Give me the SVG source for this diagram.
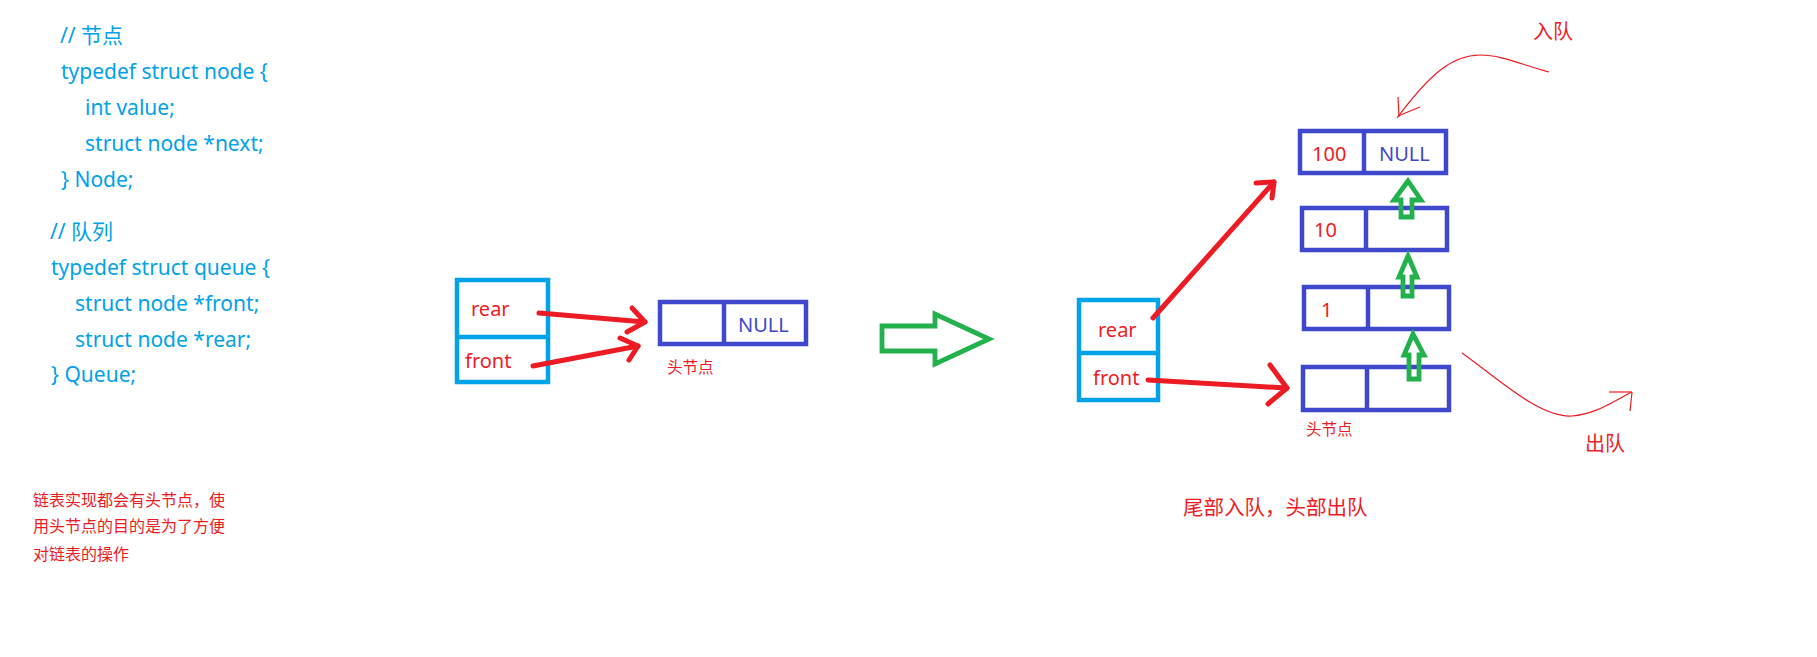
<svg xmlns="http://www.w3.org/2000/svg" width="1817" height="657" viewBox="0 0 1817 657">
<style>
.code{font-family:"Noto Sans","Noto Sans CJK SC",sans-serif;font-size:21px;fill:#00A2E8}
.lbl{font-family:"Noto Sans","Noto Sans CJK SC",sans-serif;font-size:20px;fill:#ED1C24}
.nul{font-family:"Noto Sans","Noto Sans CJK SC",sans-serif;font-size:20px;fill:#3F48CC}
.cn{font-family:"Noto Sans CJK SC",sans-serif;fill:#ED1C24}
.qbox{fill:none;stroke:#00A2E8;stroke-width:4.5}
.nbox{fill:none;stroke:#3F48CC;stroke-width:4.5}
.red{fill:none;stroke:#ED1C24;stroke-width:5;stroke-linecap:round;stroke-linejoin:round}
.thin{fill:none;stroke:#ED1C24;stroke-width:1.2}
.grn{fill:none;stroke:#22B14C;stroke-width:4.8;stroke-linejoin:miter}
</style>
<rect width="1817" height="657" fill="#fff"/>
<g id="code">
<text class="code" x="60" y="43">// 节点</text>
<text class="code" x="61" y="79">typedef struct node {</text>
<text class="code" x="85" y="115">int value;</text>
<text class="code" x="85" y="151">struct node *next;</text>
<text class="code" x="61" y="187">} Node;</text>
<text class="code" x="50" y="239">// 队列</text>
<text class="code" x="51" y="275">typedef struct queue {</text>
<text class="code" x="75" y="311">struct node *front;</text>
<text class="code" x="75" y="347">struct node *rear;</text>
<text class="code" x="51" y="382">} Queue;</text>
</g>
<g id="note">
<text class="cn" font-size="16" x="33" y="506">链表实现都会有头节点，使</text>
<text class="cn" font-size="16" x="33" y="532">用头节点的目的是为了方便</text>
<text class="cn" font-size="16" x="33" y="560">对链表的操作</text>
</g>
<g id="queue-left">
<rect class="qbox" x="457" y="280" width="91" height="102"/>
<line class="qbox" x1="457" y1="337" x2="548" y2="337"/>
<text class="lbl" x="471" y="316">rear</text>
<text class="lbl" x="465" y="368">front</text>
</g>
<g id="head-left">
<rect class="nbox" x="660" y="302" width="146" height="42"/>
<line class="nbox" x1="724" y1="302" x2="724" y2="344"/>
<text class="nul" x="738" y="332">NULL</text>
<text class="cn" font-size="15.5" x="667" y="373">头节点</text>
</g>
<g id="queue-right">
<rect class="qbox" x="1079" y="300" width="79" height="100"/>
<line class="qbox" x1="1079" y1="353" x2="1158" y2="353"/>
<text class="lbl" x="1098" y="337">rear</text>
<text class="lbl" x="1093" y="385">front</text>
</g>
<g id="node-100">
<rect class="nbox" x="1300" y="131" width="146" height="42"/>
<line class="nbox" x1="1364" y1="131" x2="1364" y2="173"/>
<text class="lbl" x="1312" y="161">100</text>
<text class="nul" x="1379" y="161">NULL</text>
</g>
<g id="node-10">
<rect class="nbox" x="1302" y="208" width="145" height="42"/>
<line class="nbox" x1="1366" y1="208" x2="1366" y2="250"/>
<text class="lbl" x="1314" y="237">10</text>
</g>
<g id="node-1">
<rect class="nbox" x="1304" y="287" width="145" height="42"/>
<line class="nbox" x1="1368" y1="287" x2="1368" y2="329"/>
<text class="lbl" x="1321" y="317">1</text>
</g>
<g id="node-head">
<rect class="nbox" x="1303" y="367" width="146" height="43"/>
<line class="nbox" x1="1367" y1="367" x2="1367" y2="410"/>
<text class="cn" font-size="15.5" x="1306" y="435">头节点</text>
</g>
<g id="labels">
<text class="cn" font-size="20" x="1533" y="39">入队</text>
<text class="cn" font-size="20" x="1585" y="451">出队</text>
<text class="cn" font-size="20.5" x="1183" y="515">尾部入队，头部出队</text>
</g>
<g id="connectors">
<line class="red" x1="539" y1="313" x2="645" y2="322"/>
<polyline class="red" points="632,308 645,322 627,332"/>
<line class="red" x1="533" y1="366" x2="638" y2="346"/>
<polyline class="red" points="620,338 638,346 629,360"/>
<line class="red" x1="1153" y1="318" x2="1274" y2="182"/>
<polyline class="red" points="1256,183 1274,182 1272,198"/>
<line class="red" x1="1148" y1="380" x2="1287" y2="388"/>
<polyline class="red" points="1270,365 1287,388 1268,404"/>
<polygon class="grn" points="882,326 935,326 935,314 989,339 935,364 935,351 882,351"/>
<polygon class="grn" points="1408,181 1421,200 1412,200 1412,217 1401,217 1401,200 1394,200"/>
<polygon class="grn" points="1408,256 1417,277 1412,277 1412,296 1403,296 1403,277 1399,277"/>
<polygon class="grn" points="1413,334 1424,355 1419,355 1419,379 1409,379 1409,355 1404,355"/>
<path class="thin" d="M1549,72 C1522,65 1502,55 1480,55 C1452,55 1430,74 1397,118"/>
<line class="thin" x1="1398" y1="97" x2="1399" y2="117"/>
<line class="thin" x1="1420" y1="107" x2="1398" y2="116"/>
<path class="thin" d="M1462,353 C1500,380 1540,418 1572,416 C1596,414 1612,402 1632,392"/>
<line class="thin" x1="1609" y1="392" x2="1632" y2="392"/>
<line class="thin" x1="1630" y1="411" x2="1632" y2="392"/>
</g>
</svg>
